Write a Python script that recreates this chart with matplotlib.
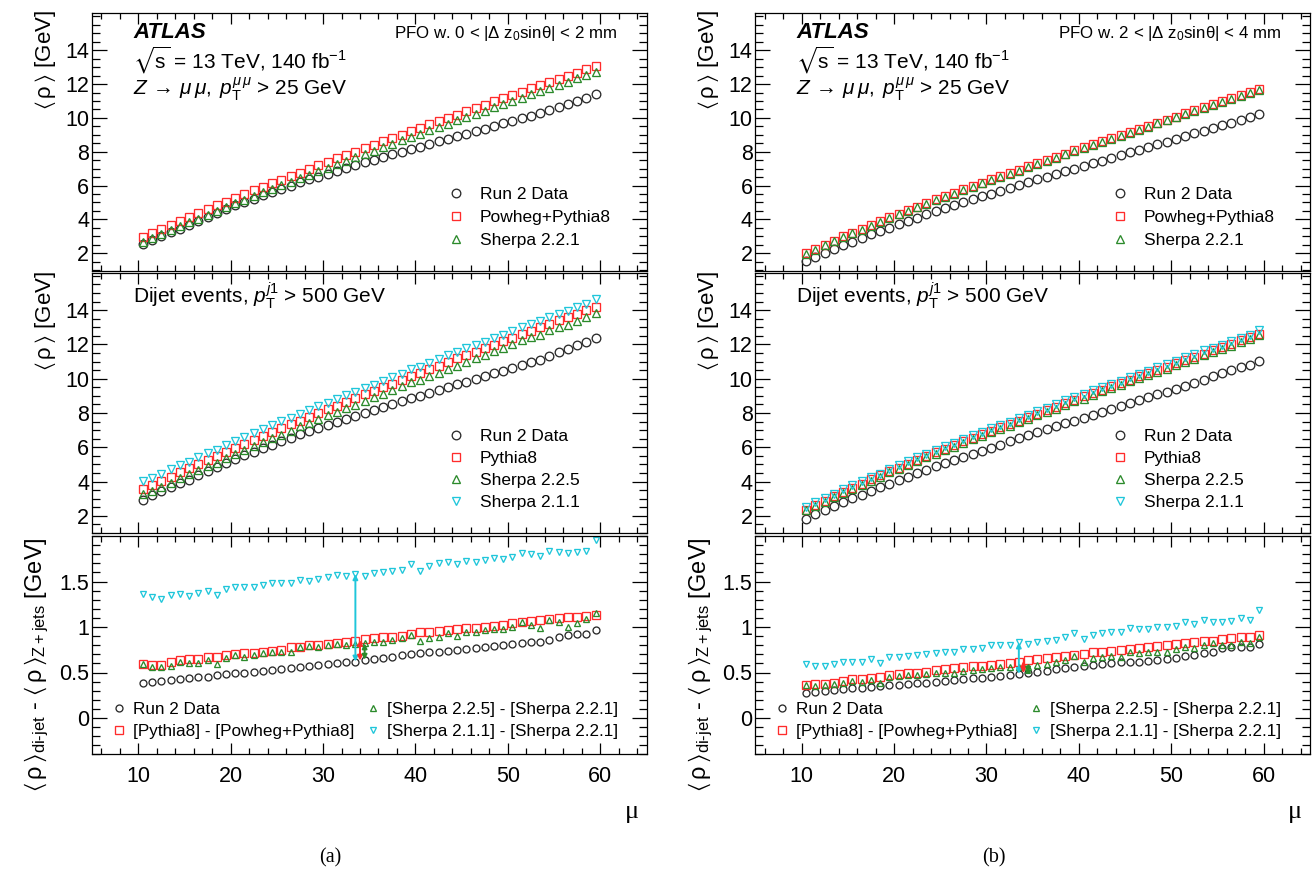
import numpy as np
import matplotlib
matplotlib.use("Agg")
import matplotlib.pyplot as plt
from matplotlib.ticker import MultipleLocator, FixedLocator, FuncFormatter

plt.rcParams['font.family'] = ['Liberation Sans', 'DejaVu Sans']
plt.rcParams['mathtext.fontset'] = 'custom'
plt.rcParams['mathtext.rm'] = 'Liberation Sans'
plt.rcParams['mathtext.it'] = 'Liberation Sans:italic'
plt.rcParams['mathtext.bf'] = 'Liberation Sans:bold'
plt.rcParams['mathtext.fallback'] = 'stixsans'

# ---------------- data ----------------
mu = np.arange(10.5, 60.0, 1.0)  # bin centres 10.5 ... 59.5

# (a) PFO 0 < |dz0 sin| < 2 mm  -- Z+jets
a_z_data = [2.57, 2.81, 3.02, 3.25, 3.46, 3.67, 3.92, 4.16, 4.40, 4.62,
            4.83, 5.03, 5.23, 5.43, 5.62, 5.81, 6.00, 6.19, 6.36, 6.53,
            6.70, 6.88, 7.06, 7.22, 7.38, 7.54, 7.70, 7.85, 8.00, 8.15,
            8.30, 8.46, 8.61, 8.77, 8.92, 9.07, 9.22, 9.37, 9.52, 9.67,
            9.82, 9.97, 10.12, 10.27, 10.44, 10.65, 10.85, 11.02, 11.20, 11.42]
a_z_powheg = [2.98, 3.22, 3.45, 3.68, 3.91, 4.14, 4.37, 4.60, 4.83, 5.05,
              5.27, 5.49, 5.71, 5.93, 6.14, 6.35, 6.56, 6.77, 6.98, 7.19,
              7.40, 7.60, 7.81, 8.01, 8.21, 8.41, 8.61, 8.81, 9.01, 9.21,
              9.41, 9.61, 9.81, 10.01, 10.20, 10.40, 10.59, 10.79, 10.98, 11.17,
              11.36, 11.55, 11.74, 11.93, 12.12, 12.31, 12.50, 12.68, 12.87, 13.05]
a_z_sherpa221 = [2.66, 2.90, 3.13, 3.36, 3.59, 3.82, 4.05, 4.28, 4.50, 4.72,
                 4.94, 5.16, 5.38, 5.60, 5.81, 6.02, 6.23, 6.44, 6.65, 6.86,
                 7.06, 7.27, 7.47, 7.67, 7.87, 8.07, 8.27, 8.47, 8.67, 8.87,
                 9.06, 9.26, 9.46, 9.65, 9.85, 10.04, 10.24, 10.43, 10.62, 10.82,
                 11.01, 11.20, 11.39, 11.58, 11.77, 11.96, 12.15, 12.33, 12.52, 12.70]
# (a) dijet
a_j_data = [2.95, 3.21, 3.43, 3.67, 3.89, 4.11, 4.37, 4.61, 4.87, 5.10,
            5.32, 5.53, 5.74, 5.95, 6.15, 6.35, 6.55, 6.75, 6.93, 7.11,
            7.29, 7.48, 7.67, 7.84, 8.02, 8.19, 8.36, 8.52, 8.69, 8.85,
            9.01, 9.18, 9.34, 9.51, 9.67, 9.83, 9.99, 10.15, 10.31, 10.47,
            10.63, 10.79, 10.95, 11.11, 11.30, 11.54, 11.76, 11.94, 12.12, 12.39]
a_j_pythia8 = [3.58, 3.80, 4.03, 4.29, 4.55, 4.79, 5.02, 5.27, 5.51, 5.74,
               5.97, 6.20, 6.43, 6.66, 6.88, 7.10, 7.34, 7.55, 7.78, 7.99,
               8.21, 8.42, 8.65, 8.86, 9.08, 9.29, 9.50, 9.70, 9.91, 10.13,
               10.35, 10.56, 10.77, 10.98, 11.18, 11.39, 11.58, 11.79, 11.99, 12.19,
               12.40, 12.60, 12.81, 13.01, 13.21, 13.41, 13.61, 13.79, 13.99, 14.18]
a_j_sherpa225 = [3.25, 3.46, 3.69, 3.93, 4.20, 4.42, 4.65, 4.92, 5.10, 5.38,
                 5.63, 5.84, 6.07, 6.31, 6.53, 6.74, 6.96, 7.22, 7.44, 7.65,
                 7.86, 8.08, 8.27, 8.48, 8.69, 8.91, 9.10, 9.33, 9.55, 9.78,
                 9.91, 10.14, 10.35, 10.58, 10.75, 10.99, 11.18, 11.40, 11.60, 11.80,
                 12.01, 12.25, 12.42, 12.57, 12.85, 13.02, 13.15, 13.37, 13.61, 13.85]
a_j_sherpa211 = [4.02, 4.23, 4.44, 4.71, 4.95, 5.16, 5.42, 5.68, 5.85, 6.14,
                 6.38, 6.60, 6.82, 7.06, 7.29, 7.51, 7.71, 7.96, 8.16, 8.39,
                 8.61, 8.84, 9.03, 9.25, 9.43, 9.66, 9.87, 10.09, 10.30, 10.56,
                 10.68, 10.93, 11.16, 11.36, 11.54, 11.77, 11.95, 12.17, 12.38, 12.57,
                 12.78, 13.01, 13.19, 13.37, 13.61, 13.79, 13.96, 14.16, 14.35, 14.66]
# (a) differences dijet - Z+jets
a_d_data = [0.38, 0.40, 0.41, 0.42, 0.43, 0.44, 0.45, 0.45, 0.47, 0.48,
            0.49, 0.50, 0.51, 0.52, 0.53, 0.54, 0.55, 0.56, 0.57, 0.58,
            0.59, 0.60, 0.61, 0.62, 0.64, 0.65, 0.66, 0.67, 0.69, 0.70,
            0.71, 0.72, 0.73, 0.74, 0.75, 0.76, 0.77, 0.78, 0.79, 0.80,
            0.81, 0.82, 0.83, 0.84, 0.86, 0.89, 0.91, 0.92, 0.92, 0.97]
a_d_pythia = [0.595, 0.58, 0.58, 0.61, 0.64, 0.65, 0.65, 0.67, 0.675, 0.69,
              0.70, 0.71, 0.715, 0.73, 0.74, 0.75, 0.78, 0.78, 0.80, 0.80,
              0.81, 0.82, 0.84, 0.85, 0.865, 0.875, 0.89, 0.89, 0.90, 0.92,
              0.94, 0.95, 0.96, 0.97, 0.98, 0.985, 0.99, 1.00, 1.01, 1.02,
              1.04, 1.05, 1.065, 1.075, 1.085, 1.095, 1.105, 1.11, 1.12, 1.13]
a_d_sherpa225 = [0.59, 0.56, 0.56, 0.57, 0.61, 0.60, 0.60, 0.64, 0.595, 0.66,
                 0.69, 0.675, 0.69, 0.71, 0.72, 0.72, 0.73, 0.78, 0.79, 0.785,
                 0.80, 0.81, 0.80, 0.81, 0.82, 0.84, 0.83, 0.86, 0.875, 0.91,
                 0.85, 0.875, 0.89, 0.93, 0.90, 0.95, 0.94, 0.97, 0.975, 0.975,
                 1.00, 1.05, 1.025, 0.985, 1.075, 1.06, 1.00, 1.04, 1.085, 1.15]
a_d_sherpa211 = [1.36, 1.33, 1.31, 1.35, 1.36, 1.34, 1.37, 1.40, 1.35, 1.42,
                 1.44, 1.44, 1.44, 1.46, 1.48, 1.485, 1.48, 1.52, 1.51, 1.525,
                 1.55, 1.57, 1.56, 1.58, 1.56, 1.59, 1.60, 1.62, 1.63, 1.69,
                 1.62, 1.67, 1.70, 1.71, 1.69, 1.73, 1.71, 1.74, 1.76, 1.75,
                 1.77, 1.81, 1.80, 1.785, 1.84, 1.825, 1.81, 1.825, 1.83, 1.96]

# (b) PFO 2 < |dz0 sin| < 4 mm  -- Z+jets
b_z_data = [1.55, 1.79, 2.02, 2.25, 2.47, 2.69, 2.90, 3.11, 3.32, 3.52,
            3.72, 3.91, 4.10, 4.29, 4.48, 4.66, 4.84, 5.02, 5.19, 5.36,
            5.53, 5.70, 5.87, 6.04, 6.20, 6.36, 6.52, 6.68, 6.84, 7.00,
            7.16, 7.32, 7.48, 7.64, 7.80, 7.96, 8.12, 8.28, 8.44, 8.60,
            8.76, 8.92, 9.08, 9.24, 9.40, 9.56, 9.72, 9.88, 10.04, 10.22]
b_z_powheg = [2.00, 2.26, 2.51, 2.75, 2.99, 3.22, 3.45, 3.68, 3.90, 4.12,
              4.34, 4.55, 4.76, 4.97, 5.18, 5.38, 5.58, 5.78, 5.98, 6.18,
              6.37, 6.56, 6.75, 6.94, 7.13, 7.32, 7.51, 7.70, 7.89, 8.08,
              8.27, 8.46, 8.64, 8.82, 9.00, 9.18, 9.36, 9.54, 9.72, 9.90,
              10.08, 10.26, 10.44, 10.62, 10.80, 10.98, 11.16, 11.34, 11.52, 11.72]
b_z_sherpa221 = [1.95, 2.21, 2.46, 2.70, 2.94, 3.17, 3.40, 3.63, 3.85, 4.07,
                 4.29, 4.50, 4.71, 4.92, 5.13, 5.33, 5.53, 5.73, 5.93, 6.13,
                 6.32, 6.51, 6.70, 6.89, 7.08, 7.27, 7.46, 7.65, 7.84, 8.03,
                 8.22, 8.41, 8.59, 8.77, 8.95, 9.13, 9.31, 9.49, 9.67, 9.85,
                 10.03, 10.21, 10.39, 10.57, 10.75, 10.93, 11.11, 11.29, 11.47, 11.66]
# (b) dijet
b_j_data = [1.83, 2.08, 2.32, 2.56, 2.79, 3.02, 3.23, 3.45, 3.67, 3.88,
            4.09, 4.29, 4.48, 4.68, 4.88, 5.07, 5.26, 5.45, 5.63, 5.81,
            5.98, 6.16, 6.35, 6.53, 6.70, 6.87, 7.04, 7.22, 7.39, 7.56,
            7.73, 7.90, 8.07, 8.24, 8.41, 8.57, 8.74, 8.91, 9.08, 9.25,
            9.42, 9.60, 9.77, 9.95, 10.13, 10.33, 10.50, 10.67, 10.82, 11.03]
b_j_pythia8 = [2.37, 2.63, 2.88, 3.13, 3.40, 3.65, 3.88, 4.13, 4.36, 4.60,
               4.82, 5.04, 5.26, 5.48, 5.71, 5.92, 6.13, 6.35, 6.55, 6.75,
               6.96, 7.16, 7.35, 7.56, 7.77, 7.97, 8.17, 8.37, 8.57, 8.78,
               8.98, 9.18, 9.37, 9.56, 9.75, 9.94, 10.13, 10.32, 10.51, 10.70,
               10.90, 11.08, 11.27, 11.47, 11.65, 11.85, 12.04, 12.23, 12.41, 12.63]
b_j_sherpa225 = [2.32, 2.57, 2.82, 3.08, 3.33, 3.58, 3.80, 4.05, 4.24, 4.53,
                 4.75, 4.97, 5.19, 5.41, 5.63, 5.82, 6.03, 6.25, 6.46, 6.67,
                 6.87, 7.07, 7.26, 7.46, 7.64, 7.86, 8.06, 8.26, 8.48, 8.71,
                 8.84, 9.07, 9.26, 9.45, 9.63, 9.85, 10.02, 10.21, 10.40, 10.57,
                 10.79, 10.99, 11.16, 11.37, 11.57, 11.73, 11.91, 12.12, 12.29, 12.56]
b_j_sherpa211 = [2.54, 2.78, 3.03, 3.29, 3.55, 3.78, 4.02, 4.28, 4.45, 4.74,
                 4.97, 5.18, 5.41, 5.63, 5.84, 6.05, 6.25, 6.49, 6.69, 6.90,
                 7.12, 7.31, 7.50, 7.72, 7.90, 8.11, 8.31, 8.51, 8.73, 8.96,
                 9.09, 9.32, 9.52, 9.72, 9.89, 10.12, 10.29, 10.47, 10.67, 10.85,
                 11.04, 11.27, 11.42, 11.65, 11.81, 11.99, 12.18, 12.39, 12.55, 12.85]
# (b) differences dijet - Z+jets
b_d_data = [0.28, 0.29, 0.30, 0.31, 0.32, 0.325, 0.325, 0.34, 0.35, 0.36,
            0.365, 0.375, 0.38, 0.39, 0.40, 0.41, 0.42, 0.425, 0.435, 0.445,
            0.45, 0.46, 0.475, 0.485, 0.50, 0.51, 0.52, 0.535, 0.55, 0.56,
            0.57, 0.58, 0.59, 0.60, 0.61, 0.61, 0.62, 0.63, 0.64, 0.65,
            0.655, 0.68, 0.69, 0.71, 0.725, 0.765, 0.78, 0.785, 0.78, 0.81]
b_d_pythia = [0.365, 0.37, 0.37, 0.38, 0.41, 0.425, 0.43, 0.445, 0.455, 0.475,
              0.48, 0.49, 0.50, 0.51, 0.53, 0.535, 0.55, 0.565, 0.57, 0.57,
              0.585, 0.595, 0.60, 0.615, 0.64, 0.65, 0.655, 0.665, 0.68, 0.695,
              0.705, 0.72, 0.725, 0.74, 0.75, 0.755, 0.765, 0.78, 0.79, 0.80,
              0.815, 0.82, 0.83, 0.845, 0.85, 0.865, 0.875, 0.885, 0.885, 0.91]
b_d_sherpa225 = [0.365, 0.355, 0.36, 0.375, 0.39, 0.41, 0.40, 0.42, 0.39, 0.455,
                 0.46, 0.47, 0.475, 0.485, 0.50, 0.49, 0.50, 0.52, 0.53, 0.535,
                 0.55, 0.56, 0.56, 0.565, 0.56, 0.585, 0.595, 0.61, 0.64, 0.68,
                 0.62, 0.655, 0.67, 0.68, 0.675, 0.72, 0.71, 0.72, 0.73, 0.72,
                 0.755, 0.78, 0.765, 0.80, 0.82, 0.80, 0.80, 0.83, 0.82, 0.895]
b_d_sherpa211 = [0.59, 0.57, 0.57, 0.59, 0.61, 0.61, 0.615, 0.645, 0.60, 0.67,
                 0.675, 0.68, 0.695, 0.705, 0.71, 0.72, 0.72, 0.755, 0.755, 0.765,
                 0.80, 0.80, 0.80, 0.83, 0.815, 0.84, 0.85, 0.86, 0.885, 0.93,
                 0.865, 0.91, 0.93, 0.95, 0.94, 0.985, 0.975, 0.975, 1.00, 1.00,
                 1.01, 1.06, 1.03, 1.075, 1.06, 1.06, 1.07, 1.095, 1.075, 1.19]

pfo_labels = [r"PFO w. 0 < |$\Delta$ z$_{0}$sin$\mathrm{\theta}$| < 2 mm",
              r"PFO w. 2 < |$\Delta$ z$_{0}$sin$\mathrm{\theta}$| < 4 mm"]
captions = ["(a)", "(b)"]

# ---------------- style ----------------
C_DATA = '#2a2a2a'
C_RED = '#ff2b2b'
C_GREEN = '#2b8a2b'
C_CYAN = '#1fc6da'

W, H = 1316, 875
fig = plt.figure(figsize=(W / 100, H / 100), dpi=100)


def rect(x0, x1, y0, y1):
    return [x0 / W, 1 - y1 / H, (x1 - x0) / W, (y1 - y0) / H]


cols = [(92, 646.5), (755.4, 1310)]
rows = [(13, 271), (273.3, 533), (536, 754.4)]

LEG_FS = 12.5
BLEG_FS = 12.3
TICK_FS = 15.5
TXT_FS = 15


def style_axes(ax, bottom):
    ax.set_xlim(5, 65)
    ax.xaxis.set_major_locator(MultipleLocator(10))
    ax.xaxis.set_minor_locator(MultipleLocator(2))
    ax.tick_params(which='both', direction='in', top=True, right=True,
                   labelsize=TICK_FS, width=0.9)
    ax.tick_params(axis='x', which='major', length=8, pad=8)
    ax.tick_params(axis='x', which='minor', length=4)
    ax.tick_params(axis='y', which='major', length=11, pad=2)
    ax.tick_params(axis='y', which='minor', length=5.5)
    if not bottom:
        ax.tick_params(axis='x', labelbottom=False)
    for s in ax.spines.values():
        s.set_linewidth(0.9)


def pts(ax, y, marker, color, ms, label):
    ax.plot(mu, y, ls='none', marker=marker, mfc='none', mec=color,
            ms=ms, mew=0.95, label=label)


fmt = FuncFormatter(lambda v, p: '%g' % v)
RHO = r'$\langle\,\mathrm{\rho}\,\rangle$'

for ci, (x0, x1) in enumerate(cols):
    if ci == 0:
        zd, zp, zs = a_z_data, a_z_powheg, a_z_sherpa221
        jd, jp, j5, j1 = a_j_data, a_j_pythia8, a_j_sherpa225, a_j_sherpa211
        dd, dp, d5, d1 = a_d_data, a_d_pythia, a_d_sherpa225, a_d_sherpa211
    else:
        zd, zp, zs = b_z_data, b_z_powheg, b_z_sherpa221
        jd, jp, j5, j1 = b_j_data, b_j_pythia8, b_j_sherpa225, b_j_sherpa211
        dd, dp, d5, d1 = b_d_data, b_d_pythia, b_d_sherpa225, b_d_sherpa211

    # ---- top: Z+jets ----
    ax = fig.add_axes(rect(x0, x1, *rows[0]))
    style_axes(ax, False)
    ax.set_ylim(0.95, 16.2)
    ax.yaxis.set_major_locator(FixedLocator([2, 4, 6, 8, 10, 12, 14]))
    ax.yaxis.set_minor_locator(MultipleLocator(0.5))
    pts(ax, zd, 'o', C_DATA, 6.2, 'Run 2 Data')
    pts(ax, zp, 's', C_RED, 6.4, 'Powheg+Pythia8')
    pts(ax, zs, '^', C_GREEN, 5.2, 'Sherpa 2.2.1')
    ax.legend(loc='upper left', bbox_to_anchor=(0.641, 0.325), frameon=False,
              fontsize=LEG_FS, handlelength=1.0, handletextpad=0.88,
              labelspacing=0.45, borderpad=0, borderaxespad=0)
    ax.text(0.074, 0.925, 'ATLAS', transform=ax.transAxes, fontsize=16,
            fontweight='bold', fontstyle='italic', va='center', ha='left')
    ax.text(0.074, 0.815, r'$\sqrt{\mathrm{s}}$ = 13 TeV, 140 fb$^{\mathregular{-1}}$',
            transform=ax.transAxes, fontsize=TXT_FS, va='center', ha='left')
    ax.text(0.074, 0.705,
            r'$Z\,\rightarrow\,\mu\,\mu$$,\;$$p_{\mathrm{T}}^{\mu\,\mu}$ > 25 GeV',
            transform=ax.transAxes, fontsize=TXT_FS, va='center', ha='left')
    ax.text(0.947, 0.92, pfo_labels[ci], transform=ax.transAxes, fontsize=12.2,
            va='center', ha='right')

    # ---- middle: dijet ----
    ax = fig.add_axes(rect(x0, x1, *rows[1]))
    style_axes(ax, False)
    ax.set_ylim(1.0, 16.15)
    ax.yaxis.set_major_locator(FixedLocator([2, 4, 6, 8, 10, 12, 14]))
    ax.yaxis.set_minor_locator(MultipleLocator(0.5))
    pts(ax, jd, 'o', C_DATA, 6.2, 'Run 2 Data')
    pts(ax, jp, 's', C_RED, 6.4, 'Pythia8')
    pts(ax, j5, '^', C_GREEN, 5.2, 'Sherpa 2.2.5')
    pts(ax, j1, 'v', C_CYAN, 5.2, 'Sherpa 2.1.1')
    ax.legend(loc='upper left', bbox_to_anchor=(0.641, 0.401), frameon=False,
              fontsize=LEG_FS, handlelength=1.0, handletextpad=0.88,
              labelspacing=0.40, borderpad=0, borderaxespad=0)
    ax.text(0.074, 0.915, r'Dijet events, $p_{\mathrm{T}}^{j1}$ > 500 GeV',
            transform=ax.transAxes, fontsize=TXT_FS, va='center', ha='left')

    # ---- bottom: differences ----
    ax = fig.add_axes(rect(x0, x1, *rows[2]))
    style_axes(ax, True)
    ax.set_ylim(-0.4, 2.0)
    ax.yaxis.set_major_locator(FixedLocator([0, 0.5, 1, 1.5]))
    ax.yaxis.set_minor_locator(MultipleLocator(0.1))
    ax.yaxis.set_major_formatter(fmt)
    ax.xaxis.set_major_formatter(fmt)
    pts(ax, dd, 'o', C_DATA, 5.0, 'Run 2 Data')
    pts(ax, dp, 's', C_RED, 5.8, '[Pythia8] - [Powheg+Pythia8]')
    pts(ax, d5, '^', C_GREEN, 4.5, '[Sherpa 2.2.5] - [Sherpa 2.2.1]')
    pts(ax, d1, 'v', C_CYAN, 4.5, '[Sherpa 2.1.1] - [Sherpa 2.2.1]')
    # arrows at mu ~ 34
    i0, i1 = 23, 24
    ax.annotate('', xy=(mu[i0], d1[i0]), xytext=(mu[i0], dd[i0]),
                arrowprops=dict(arrowstyle='<|-|>', color=C_CYAN, lw=1.4,
                                mutation_scale=7, shrinkA=0, shrinkB=0))
    xm = 0.5 * (mu[i0] + mu[i1])
    ax.annotate('', xy=(xm, 0.5 * (dp[i0] + dp[i1])), xytext=(xm, 0.5 * (dd[i0] + dd[i1])),
                arrowprops=dict(arrowstyle='<|-|>', color=C_RED, lw=1.4,
                                mutation_scale=7, shrinkA=0, shrinkB=0))
    ax.annotate('', xy=(mu[i1], d5[i1]), xytext=(mu[i1], dd[i1]),
                arrowprops=dict(arrowstyle='<|-|>', color=C_GREEN, lw=1.4,
                                mutation_scale=7, shrinkA=0, shrinkB=0))
    h, l = ax.get_legend_handles_labels()
    ax.legend(h[:4], l[:4], ncols=2,
              loc='upper left', bbox_to_anchor=(0.039, 0.2386), frameon=False,
              fontsize=BLEG_FS, handlelength=0.6, handletextpad=0.51,
              labelspacing=0.39, columnspacing=0.8, borderpad=0, borderaxespad=0)

    # x label and caption
    fig.text((x0 + 540) / W, 1 - 812 / H, 'μ', fontsize=19, family='Liberation Serif',
             ha='center', va='center')
    fig.text((x0 + 238.5) / W, 1 - 858 / H, captions[ci], fontsize=14.5,
             family='Liberation Serif', ha='center', va='center')

    # y labels
    lx = x0 - 47
    fig.text(lx / W, 1 - 10 / H, RHO + ' [GeV]', rotation=90,
             fontsize=16, ha='center', va='top')
    fig.text(lx / W, 1 - (rows[1][0] - 2) / H, RHO + ' [GeV]', rotation=90,
             fontsize=16, ha='center', va='top')
    fig.text((x0 - 55) / W, 1 - (rows[2][0] + 1) / H,
             RHO + r'$_{\mathrm{di}\text{-}\mathrm{jet}}$ - ' + RHO
             + r'$_{\mathrm{Z+jets}}$ [GeV]',
             rotation=90, fontsize=17, ha='center', va='top')

fig.savefig('out.png', dpi=100)
